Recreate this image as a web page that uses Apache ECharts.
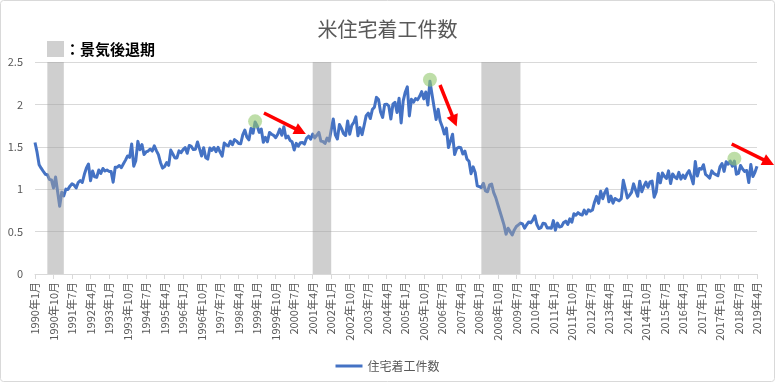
<!DOCTYPE html>
<html>
<head>
<meta charset="utf-8">
<script src="https://cdn.jsdelivr.net/npm/echarts@6/dist/echarts.min.js"></script>
<style>
html,body{margin:0;padding:0;background:#fff;}
#c{width:775px;height:382px;}
</style>
</head>
<body>
<div id="c"></div>
<script>
// ---- data (米住宅着工件数, 百万件, 月次) ----
const startYear = 1990, startMonth = 1;
const housingStarts = [
  1.551,1.437,1.289,1.248,1.212,1.177,1.171,1.115,1.110,1.014,1.145,0.969, // 1990
  0.798,0.965,0.921,1.001,0.996,1.036,1.063,1.049,1.015,1.079,1.103,1.079, // 1991
  1.176,1.250,1.297,1.099,1.214,1.145,1.139,1.226,1.186,1.244,1.214,1.227, // 1992
  1.210,1.210,1.083,1.258,1.260,1.280,1.254,1.300,1.343,1.392,1.376,1.533, // 1993
  1.272,1.337,1.564,1.465,1.526,1.409,1.439,1.450,1.474,1.450,1.511,1.455, // 1994
  1.407,1.316,1.249,1.267,1.314,1.281,1.461,1.416,1.369,1.369,1.452,1.431, // 1995
  1.467,1.491,1.424,1.516,1.504,1.467,1.472,1.557,1.475,1.392,1.489,1.370, // 1996
  1.355,1.486,1.457,1.492,1.442,1.494,1.437,1.390,1.546,1.520,1.510,1.566, // 1997
  1.525,1.584,1.567,1.540,1.536,1.641,1.698,1.614,1.582,1.715,1.660,1.792, // 1998
  1.748,1.670,1.710,1.553,1.611,1.559,1.669,1.648,1.635,1.608,1.648,1.708, // 1999
  1.636,1.737,1.604,1.626,1.575,1.559,1.463,1.541,1.507,1.549,1.551,1.532, // 2000
  1.600,1.625,1.590,1.649,1.605,1.636,1.670,1.567,1.562,1.540,1.602,1.568, // 2001
  1.698,1.829,1.642,1.592,1.764,1.717,1.655,1.633,1.804,1.648,1.753,1.788, // 2002
  1.853,1.629,1.726,1.643,1.751,1.867,1.897,1.833,1.939,1.967,2.083,2.057, // 2003
  1.911,1.846,1.998,2.003,1.981,1.828,2.002,2.024,1.905,2.072,1.782,2.042, // 2004
  2.144,2.207,1.864,2.061,2.025,2.068,2.054,2.095,2.151,2.065,2.147,1.994, // 2005
  2.273,2.119,1.969,1.821,1.942,1.802,1.737,1.650,1.720,1.491,1.570,1.649, // 2006
  1.409,1.480,1.495,1.490,1.415,1.448,1.354,1.330,1.183,1.264,1.197,1.040, // 2007
  1.030,1.020,1.070,0.980,0.970,1.050,1.060,0.960,0.900,0.820,0.740,0.660, // 2008
  0.580,0.470,0.540,0.500,0.460,0.520,0.560,0.580,0.600,0.590,0.540,0.580, // 2009
  0.614,0.604,0.636,0.687,0.583,0.536,0.546,0.599,0.594,0.543,0.545,0.539, // 2010
  0.630,0.517,0.600,0.554,0.561,0.608,0.623,0.585,0.650,0.610,0.711,0.694, // 2011
  0.723,0.704,0.695,0.753,0.708,0.757,0.740,0.754,0.847,0.915,0.833,0.976, // 2012
  0.888,0.962,1.005,0.853,0.919,0.835,0.891,0.876,0.863,0.889,1.105,1.003, // 2013
  0.897,0.928,0.963,1.063,0.987,0.916,1.095,0.971,1.035,1.083,1.023,1.086, // 2014
  1.095,0.906,0.967,1.185,1.075,1.190,1.151,1.128,1.216,1.066,1.180,1.146, // 2015
  1.124,1.198,1.119,1.166,1.127,1.183,1.219,1.145,1.063,1.328,1.155,1.244, // 2016
  1.236,1.289,1.174,1.154,1.131,1.216,1.185,1.172,1.159,1.264,1.303,1.210, // 2017
  1.324,1.295,1.332,1.270,1.332,1.177,1.187,1.280,1.237,1.210,1.221,1.078, // 2018
  1.291,1.149,1.199,1.270                                                  // 2019
];
const months = housingStarts.map((_, i) => {
  const t = (startMonth - 1) + i;
  return (startYear + Math.floor(t / 12)) + '年' + (t % 12 + 1) + '月';
});
const yTicks = [0, 0.5, 1, 1.5, 2, 2.5];

// 景気後退期
const recessionStart = ['1990年7月', '2001年4月', '2008年2月'];
const recessionEnd   = ['1991年3月', '2002年1月', '2009年9月'];

// 注目点（円）
const peakMonths = ['1998年12月', '2006年1月', '2018年5月'];
const peakValues = [1.80, 2.29, 1.36];

// 矢印 (月インデックス, 値)
const arrowFromIdx = [111.3, 196.9, 338.7];
const arrowFromVal = [1.899, 2.229, 1.533];
const arrowToIdx   = [131.7, 205.0, 359.3];
const arrowToVal   = [1.651, 1.739, 1.285];

const FONT = '"Noto Sans CJK JP", "Noto Sans", sans-serif';
const chart = echarts.init(document.getElementById('c'), null, {renderer: 'canvas'});

const option = {
  animation: false,
  backgroundColor: '#fff',
  title: {
    text: '米住宅着工件数',
    left: 'center',
    top: 14,
    textStyle: {fontFamily: FONT, fontSize: 20, fontWeight: 'normal', color: '#595959'}
  },
  legend: {
    data: [{name: '住宅着工件数', icon: 'rect'}],
    left: 'center',
    top: 355,
    itemWidth: 27,
    itemHeight: 3,
    textStyle: {fontFamily: FONT, fontSize: 12, color: '#595959'}
  },
  grid: {left: 35, right: 18, top: 62, bottom: 108, containLabel: false},
  xAxis: {
    type: 'category',
    data: months,
    boundaryGap: false,
    axisLine: {lineStyle: {color: '#d9d9d9', width: 1}},
    axisTick: {show: true, interval: 8, length: 5, lineStyle: {color: '#d9d9d9'}},
    axisLabel: {interval: 8, rotate: 90, margin: 8, fontFamily: FONT, fontSize: 11, color: '#595959'},
    splitLine: {show: false}
  },
  yAxis: {
    type: 'value',
    min: yTicks[0],
    max: yTicks[yTicks.length - 1],
    interval: 0.5,
    axisLine: {show: false},
    axisTick: {show: false},
    axisLabel: {margin: 12, fontFamily: FONT, fontSize: 11, color: '#595959'},
    splitLine: {lineStyle: {color: '#d9d9d9', width: 1}}
  },
  series: [
    {
      name: '住宅着工件数',
      type: 'line',
      data: housingStarts,
      showSymbol: false,
      symbol: 'none',
      z: 2,
      lineStyle: {color: '#4472C4', width: 3, join: 'round'},
      itemStyle: {color: '#4472C4'},
      markPoint: {
        symbol: 'circle',
        symbolSize: 14,
        silent: true,
        z: 12,
        label: {show: false},
        itemStyle: {color: 'rgba(146,200,110,0.6)'},
        data: peakMonths.map((m, i) => ({coord: [m, peakValues[i]]}))
      },
      markArea: {
        silent: true,
        z: 10,
        itemStyle: {color: 'rgba(160,160,160,0.5)'},
        data: recessionStart.map((s, i) => [{xAxis: s}, {xAxis: recessionEnd[i]}])
      }
    }
  ]
};
chart.setOption(option);

function px(idx, val) {
  const a = chart.convertToPixel({xAxisIndex: 0}, months[0]);
  const b = chart.convertToPixel({xAxisIndex: 0}, months[months.length - 1]);
  const y = chart.convertToPixel({yAxisIndex: 0}, val);
  return [a + (b - a) * idx / (months.length - 1), y];
}

const graphics = [
  {type: 'rect', shape: {x: 0.5, y: 0.5, width: 774, height: 381, r: 3},
   style: {fill: 'none', stroke: '#d9d9d9', lineWidth: 1}, z: 0, silent: true},
  {type: 'rect', shape: {x: 47, y: 41, width: 17, height: 16},
   style: {fill: '#d0d0d0'}, z: 10},
  {type: 'text', x: 65, y: 49,
   style: {text: '：景気後退期', font: 'bold 15px ' + FONT, fill: '#000', verticalAlign: 'middle'}, z: 10}
];
for (let i = 0; i < arrowFromIdx.length; i++) {
  const p0 = px(arrowFromIdx[i], arrowFromVal[i]);
  const p1 = px(arrowToIdx[i], arrowToVal[i]);
  const dx = p1[0] - p0[0], dy = p1[1] - p0[1];
  const len = Math.hypot(dx, dy);
  const ux = dx / len, uy = dy / len;
  const headL = 12, headW = 6;
  const bx = p1[0] - ux * headL, by = p1[1] - uy * headL;
  graphics.push({type: 'line', shape: {x1: p0[0], y1: p0[1], x2: bx + ux * 1, y2: by + uy * 1},
    style: {stroke: '#ff0000', lineWidth: 3.5}, z: 20});
  graphics.push({type: 'polygon', shape: {points: [
      [p1[0], p1[1]],
      [bx - uy * headW, by + ux * headW],
      [bx + uy * headW, by - ux * headW]
    ]}, style: {fill: '#ff0000'}, z: 20});
}
chart.setOption({graphic: graphics});
</script>
</body>
</html>
